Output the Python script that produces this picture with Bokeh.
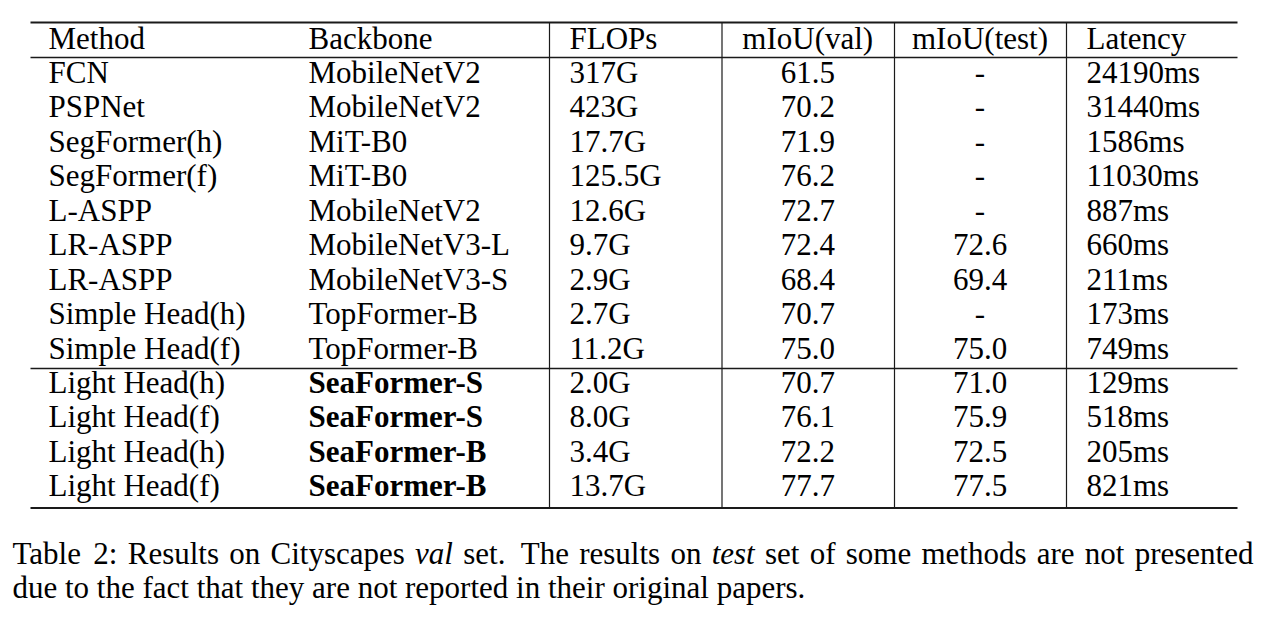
from bokeh.plotting import figure
from bokeh.models import Range1d, ColumnDataSource
from bokeh.core.properties import value
from bokeh.embed import file_html
from bokeh.resources import INLINE

# ---- data ----
headers = ["Method", "Backbone", "FLOPs", "mIoU(val)", "mIoU(test)", "Latency"]
methods = ["FCN", "PSPNet", "SegFormer(h)", "SegFormer(f)", "L-ASPP", "LR-ASPP", "LR-ASPP",
           "Simple Head(h)", "Simple Head(f)", "Light Head(h)", "Light Head(f)",
           "Light Head(h)", "Light Head(f)"]
backbones = ["MobileNetV2", "MobileNetV2", "MiT-B0", "MiT-B0", "MobileNetV2", "MobileNetV3-L",
             "MobileNetV3-S", "TopFormer-B", "TopFormer-B", "SeaFormer-S", "SeaFormer-S",
             "SeaFormer-B", "SeaFormer-B"]
flops = ["317G", "423G", "17.7G", "125.5G", "12.6G", "9.7G", "2.9G", "2.7G", "11.2G",
         "2.0G", "8.0G", "3.4G", "13.7G"]
miou_val = ["61.5", "70.2", "71.9", "76.2", "72.7", "72.4", "68.4", "70.7", "75.0",
            "70.7", "76.1", "72.2", "77.7"]
miou_test = ["-", "-", "-", "-", "-", "72.6", "69.4", "-", "75.0",
             "71.0", "75.9", "72.5", "77.5"]
latency = ["24190ms", "31440ms", "1586ms", "11030ms", "887ms", "660ms", "211ms", "173ms",
           "749ms", "129ms", "518ms", "205ms", "821ms"]
bold_backbone = [False] * 9 + [True] * 4

caption1_words = [("Table", "normal"), ("2:", "normal"), ("Results", "normal"), ("on", "normal"),
                  ("Cityscapes", "normal"), ("val", "italic"), ("set.", "normal"),
                  ("The", "normal"), ("results", "normal"), ("on", "normal"), ("test", "italic"),
                  ("set", "normal"), ("of", "normal"), ("some", "normal"), ("methods", "normal"),
                  ("are", "normal"), ("not", "normal"), ("presented", "normal")]
caption2 = "due to the fact that they are not reported in their original papers."

# ---- layout ----
FONT = value("Liberation Serif")
FSZ = 31
FS = f"{FSZ}px"
W, H = 1262, 605
p = figure(width=W, height=H, x_range=Range1d(0, W), y_range=Range1d(H, 0),
           output_backend="svg", toolbar_location=None, min_border=0)
p.axis.visible = False
p.grid.visible = False
p.outline_line_color = None
p.background_fill_color = "white"
p.border_fill_color = "white"

TXT_DY = -10.5  # correction: rendered alphabetic baseline sits lower than requested

left, right = 30, 1237
top_rule, head_rule, sep_rule, bot_rule = 22, 57, 368, 507.5
vlines = [549, 721.5, 894, 1066]
head_base = 48.0
row0, step = 82.4, 34.45
rows_y = [row0 + i * step for i in range(len(methods))]

# rules
p.segment(x0=[left, left], x1=[right, right], y0=[top_rule, bot_rule], y1=[top_rule, bot_rule],
          line_color="#1a1a1a", line_width=1.8)
p.segment(x0=[left, left], x1=[right, right], y0=[head_rule, sep_rule], y1=[head_rule, sep_rule],
          line_color="#1a1a1a", line_width=1.3)
p.segment(x0=vlines, x1=vlines, y0=[top_rule] * 4, y1=[bot_rule] * 4,
          line_color="#1a1a1a", line_width=1.2)

col_left = {"Method": 48, "Backbone": 308, "FLOPs": 569, "Latency": 1086}
col_center = {"mIoU(val)": (vlines[1] + vlines[2]) / 2 - 0.5,
              "mIoU(test)": (vlines[2] + vlines[3]) / 2 - 0.5}

def txt(xs, ys, texts, align="left", style="normal"):
    src = ColumnDataSource(dict(x=xs, y=[y + TXT_DY for y in ys], t=texts))
    p.text(x="x", y="y", text="t", source=src, text_font=FONT, text_font_size=FS,
           text_baseline="alphabetic", text_align=align, text_color="black",
           text_font_style=style)

# header
for h in headers:
    if h in col_left:
        txt([col_left[h]], [head_base], [h])
    else:
        txt([col_center[h]], [head_base], [h], align="center")

txt([col_left["Method"]] * len(methods), rows_y, methods)
nb = [i for i, b in enumerate(bold_backbone) if not b]
bb = [i for i, b in enumerate(bold_backbone) if b]
txt([col_left["Backbone"]] * len(nb), [rows_y[i] for i in nb], [backbones[i] for i in nb])
txt([col_left["Backbone"]] * len(bb), [rows_y[i] for i in bb], [backbones[i] for i in bb], style="bold")
txt([col_left["FLOPs"]] * len(flops), rows_y, flops)
txt([col_center["mIoU(val)"]] * len(miou_val), rows_y, miou_val, align="center")
txt([col_center["mIoU(test)"]] * len(miou_test), rows_y, miou_test, align="center")
txt([col_left["Latency"]] * len(latency), rows_y, latency)

# caption: justified first line, using Times metrics (per 1000 em)
ROMAN = {' ': 250, '.': 250, ':': 278, '2': 500, 'T': 611, 'a': 444, 'b': 500, 'l': 278,
         'e': 444, 'R': 667, 's': 389, 'u': 500, 't': 278, 'o': 500, 'n': 500, 'C': 667,
         'i': 278, 'y': 500, 'c': 444, 'p': 500, 'h': 500, 'm': 778, 'd': 500, 'r': 333,
         'f': 333, 'g': 500}
ITALIC = {'v': 444, 'a': 500, 'l': 278, 't': 278, 'e': 444, 's': 389}

def wwidth(word, style):
    tab = ITALIC if style == "italic" else ROMAN
    return sum(tab.get(ch, 500) for ch in word) * FSZ / 1000.0

cap_left, cap_right = 12, 1253
cap_base1, cap_base2 = 563.5, 597.5
widths = [wwidth(w, s) for w, s in caption1_words]
gap_weights = [1.5 if caption1_words[i][0].endswith('.') else 1.0
               for i in range(len(caption1_words) - 1)]
gap_unit = (cap_right - cap_left - sum(widths)) / sum(gap_weights)
xpos = [cap_left]
for i in range(1, len(caption1_words)):
    xpos.append(xpos[-1] + widths[i - 1] + gap_unit * gap_weights[i - 1])
for (w, s), cx in zip(caption1_words, xpos):
    txt([cx], [cap_base1], [w], style=s)
txt([cap_left], [cap_base2], [caption2])

open("out.html", "w").write(file_html(p, INLINE))
